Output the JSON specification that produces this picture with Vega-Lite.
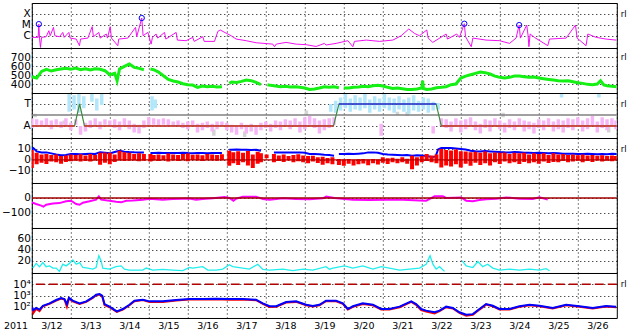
{
"$schema": "https://vega.github.io/schema/vega-lite/v6.json",
"background": "white",
"padding": {"left": 0.8, "top": 2, "right": 0, "bottom": 0},
"spacing": 0,
"bounds": "flush",
"config": {
  "view": {"stroke": "#000000", "strokeWidth": 1},
  "axis": {"domain": false, "ticks": false, "grid": true, "gridColor": "#000000", "gridDash": [1, 3], "gridOpacity": 1, "gridWidth": 1, "labelFont": "DejaVu Sans", "labelColor": "#000000", "labelFontSize": 10.5, "labelPadding": 1.5, "labelOverlap": false, "labelBound": false, "labelFlush": false},
  "axisX": {"labels": false, "tickCount": {"interval": "day", "step": 1}},
  "axisY": {"minExtent": 30, "maxExtent": 30},
  "text": {"font": "DejaVu Sans", "fontSize": 8.5, "color": "#000000", "align": "left", "baseline": "middle"}
},
"datasets": {
"xray": [
{"t":"2011-03-12T00:00Z","flux":7.4e-7},{"t":"2011-03-12T03:55Z","flux":7.4e-7},{"t":"2011-03-12T04:20Z","flux":1.2e-5},{"t":"2011-03-12T04:45Z","flux":6.4e-7},{"t":"2011-03-12T05:20Z","flux":9e-8},{"t":"2011-03-12T06:00Z","flux":7.4e-7},{"t":"2011-03-12T08:50Z","flux":8.5e-7},{"t":"2011-03-12T10:30Z","flux":3.0e-6},{"t":"2011-03-12T11:20Z","flux":1.05e-6},{"t":"2011-03-12T13:20Z","flux":6e-6},{"t":"2011-03-12T14:10Z","flux":1.05e-6},{"t":"2011-03-12T17:00Z","flux":8.5e-7},{"t":"2011-03-12T19:05Z","flux":2.1e-6},{"t":"2011-03-12T19:55Z","flux":7.4e-7},{"t":"2011-03-12T22:50Z","flux":2.1e-6},{"t":"2011-03-12T23:35Z","flux":6.4e-7},
{"t":"2011-03-13T03:20Z","flux":5.2e-7},{"t":"2011-03-13T05:20Z","flux":1.3e-7},{"t":"2011-03-13T06:00Z","flux":5.2e-7},{"t":"2011-03-13T10:30Z","flux":6.4e-7},{"t":"2011-03-13T13:10Z","flux":7e-6},{"t":"2011-03-13T13:55Z","flux":8.5e-7},{"t":"2011-03-13T17:15Z","flux":2.1e-6},{"t":"2011-03-13T18:05Z","flux":6.4e-7},{"t":"2011-03-13T21:50Z","flux":1.5e-6},{"t":"2011-03-13T22:35Z","flux":6.4e-7},
{"t":"2011-03-14T00:15Z","flux":7e-6},{"t":"2011-03-14T01:00Z","flux":6.4e-7},{"t":"2011-03-14T04:55Z","flux":1.3e-7},{"t":"2011-03-14T05:30Z","flux":5.2e-7},{"t":"2011-03-14T11:05Z","flux":6.4e-7},{"t":"2011-03-14T15:50Z","flux":6e-6},{"t":"2011-03-14T16:35Z","flux":8.5e-7},{"t":"2011-03-14T19:40Z","flux":4.3e-5},{"t":"2011-03-14T20:30Z","flux":1.05e-6},{"t":"2011-03-14T23:25Z","flux":2.1e-6},
{"t":"2011-03-15T00:10Z","flux":8.5e-7},{"t":"2011-03-15T01:25Z","flux":1.8e-7},{"t":"2011-03-15T02:15Z","flux":7.4e-7},{"t":"2011-03-15T04:30Z","flux":1.5e-6},{"t":"2011-03-15T05:30Z","flux":6.4e-7},{"t":"2011-03-15T09:40Z","flux":2.1e-6},{"t":"2011-03-15T10:30Z","flux":5.2e-7},{"t":"2011-03-15T16:50Z","flux":2.1e-6},{"t":"2011-03-15T17:35Z","flux":4.2e-7},{"t":"2011-03-15T23:00Z","flux":3.7e-7},
{"t":"2011-03-16T03:05Z","flux":7.4e-7},{"t":"2011-03-16T03:55Z","flux":3.2e-7},{"t":"2011-03-16T09:15Z","flux":8.5e-7},{"t":"2011-03-16T10:05Z","flux":3.2e-7},{"t":"2011-03-16T16:25Z","flux":3.2e-7},{"t":"2011-03-16T18:30Z","flux":2.6e-6},{"t":"2011-03-16T19:55Z","flux":3.5e-6},{"t":"2011-03-16T23:35Z","flux":1.8e-6},
{"t":"2011-03-17T02:40Z","flux":1.05e-6},{"t":"2011-03-17T05:45Z","flux":5.2e-7},{"t":"2011-03-17T11:55Z","flux":3.7e-7},{"t":"2011-03-17T18:05Z","flux":2.4e-7},
{"t":"2011-03-18T04:20Z","flux":1.8e-7},{"t":"2011-03-18T05:20Z","flux":1.05e-7},{"t":"2011-03-18T06:25Z","flux":1.8e-7},{"t":"2011-03-18T12:30Z","flux":2.6e-7},{"t":"2011-03-18T18:40Z","flux":1.8e-7},
{"t":"2011-03-19T00:50Z","flux":1.6e-7},{"t":"2011-03-19T07:00Z","flux":1.1e-7},{"t":"2011-03-19T12:05Z","flux":2.1e-7},{"t":"2011-03-19T13:05Z","flux":1.5e-7},{"t":"2011-03-19T19:15Z","flux":2.1e-7},
{"t":"2011-03-20T02:30Z","flux":3.7e-7},{"t":"2011-03-20T05:35Z","flux":1.05e-7},{"t":"2011-03-20T06:35Z","flux":3.2e-7},{"t":"2011-03-20T13:50Z","flux":4.2e-7},{"t":"2011-03-20T22:00Z","flux":3.2e-7},
{"t":"2011-03-21T06:10Z","flux":4.2e-7},{"t":"2011-03-21T11:20Z","flux":1.05e-6},{"t":"2011-03-21T16:00Z","flux":4.3e-6},{"t":"2011-03-21T19:30Z","flux":1.7e-6},{"t":"2011-03-21T22:35Z","flux":1.05e-6},
{"t":"2011-03-22T03:05Z","flux":3.5e-6},{"t":"2011-03-22T03:55Z","flux":6.4e-7},{"t":"2011-03-22T06:45Z","flux":2.6e-7},{"t":"2011-03-22T15:00Z","flux":1.5e-6},{"t":"2011-03-22T15:50Z","flux":5.2e-7},{"t":"2011-03-22T21:30Z","flux":1.5e-6},{"t":"2011-03-22T23:10Z","flux":7.4e-7},
{"t":"2011-03-23T02:10Z","flux":1.3e-5},{"t":"2011-03-23T02:55Z","flux":8.5e-7},{"t":"2011-03-23T06:25Z","flux":1.05e-7},{"t":"2011-03-23T07:25Z","flux":6.4e-7},{"t":"2011-03-23T15:35Z","flux":4.2e-7},{"t":"2011-03-23T23:50Z","flux":3.7e-7},
{"t":"2011-03-24T06:00Z","flux":2.1e-7},{"t":"2011-03-24T10:00Z","flux":6.4e-7},{"t":"2011-03-24T11:55Z","flux":9.8e-6},{"t":"2011-03-24T12:40Z","flux":6.4e-7},{"t":"2011-03-24T16:35Z","flux":9.8e-6},{"t":"2011-03-24T17:25Z","flux":1.05e-6},{"t":"2011-03-24T17:55Z","flux":1.05e-7},{"t":"2011-03-24T18:40Z","flux":1.5e-6},{"t":"2011-03-24T21:20Z","flux":7.4e-7},
{"t":"2011-03-25T05:30Z","flux":1.3e-7},{"t":"2011-03-25T06:35Z","flux":5.2e-7},{"t":"2011-03-25T16:50Z","flux":6.4e-7},{"t":"2011-03-25T22:35Z","flux":9.8e-6},{"t":"2011-03-25T23:35Z","flux":6.4e-7},
{"t":"2011-03-26T05:05Z","flux":1.3e-7},{"t":"2011-03-26T06:10Z","flux":1.5e-6},{"t":"2011-03-26T11:20Z","flux":7.4e-7},{"t":"2011-03-26T17:25Z","flux":5.2e-7},{"t":"2011-03-26T23:35Z","flux":4.2e-7}
],
"flares": [
{"t":"2011-03-12T04:20Z","flux":1.2e-5},{"t":"2011-03-14T19:40Z","flux":4.3e-5},{"t":"2011-03-23T02:10Z","flux":1.3e-5},{"t":"2011-03-24T11:55Z","flux":9.8e-6}
],
"wind": [
{"t":"2011-03-12T00:00Z","speed":481},{"t":"2011-03-12T03:00Z","speed":466},{"t":"2011-03-12T06:00Z","speed":540},{"t":"2011-03-12T09:00Z","speed":563},{"t":"2011-03-12T12:00Z","speed":544},{"t":"2011-03-12T15:00Z","speed":559},{"t":"2011-03-12T18:00Z","speed":566},{"t":"2011-03-12T21:00Z","speed":574},
{"t":"2011-03-13T00:00Z","speed":563},{"t":"2011-03-13T03:00Z","speed":577},{"t":"2011-03-13T06:00Z","speed":559},{"t":"2011-03-13T09:00Z","speed":570},{"t":"2011-03-13T12:00Z","speed":555},{"t":"2011-03-13T15:00Z","speed":570},{"t":"2011-03-13T18:00Z","speed":563},{"t":"2011-03-13T21:00Z","speed":548},
{"t":"2011-03-14T00:00Z","speed":503},{"t":"2011-03-14T03:00Z","speed":518},{"t":"2011-03-14T04:30Z","speed":436},{"t":"2011-03-14T06:00Z","speed":566},{"t":"2011-03-14T09:00Z","speed":596},{"t":"2011-03-14T12:00Z","speed":622},{"t":"2011-03-14T15:00Z","speed":585},{"t":"2011-03-14T18:00Z","speed":574},{"t":"2011-03-14T21:00Z","speed":559},{"t":"2011-03-14T22:30Z","speed":null},
{"t":"2011-03-15T01:00Z","speed":566},{"t":"2011-03-15T03:00Z","speed":559},{"t":"2011-03-15T06:00Z","speed":533},{"t":"2011-03-15T09:00Z","speed":492},{"t":"2011-03-15T12:00Z","speed":451},{"t":"2011-03-15T15:00Z","speed":433},{"t":"2011-03-15T18:00Z","speed":422},{"t":"2011-03-15T21:00Z","speed":403},
{"t":"2011-03-16T00:00Z","speed":392},{"t":"2011-03-16T03:00Z","speed":388},{"t":"2011-03-16T06:00Z","speed":363},{"t":"2011-03-16T09:00Z","speed":377},{"t":"2011-03-16T12:00Z","speed":370},{"t":"2011-03-16T15:00Z","speed":374},{"t":"2011-03-16T18:00Z","speed":366},{"t":"2011-03-16T21:00Z","speed":370},{"t":"2011-03-16T23:00Z","speed":null},
{"t":"2011-03-17T01:30Z","speed":407},{"t":"2011-03-17T03:00Z","speed":422},{"t":"2011-03-17T06:00Z","speed":418},{"t":"2011-03-17T09:00Z","speed":429},{"t":"2011-03-17T12:00Z","speed":444},{"t":"2011-03-17T15:00Z","speed":437},{"t":"2011-03-17T18:00Z","speed":418},{"t":"2011-03-17T21:00Z","speed":392},{"t":"2011-03-17T23:00Z","speed":null},
{"t":"2011-03-18T01:00Z","speed":392},{"t":"2011-03-18T03:00Z","speed":385},{"t":"2011-03-18T06:00Z","speed":377},{"t":"2011-03-18T09:00Z","speed":370},{"t":"2011-03-18T12:00Z","speed":374},{"t":"2011-03-18T15:00Z","speed":366},{"t":"2011-03-18T18:00Z","speed":370},{"t":"2011-03-18T21:00Z","speed":363},
{"t":"2011-03-19T00:00Z","speed":355},{"t":"2011-03-19T03:00Z","speed":340},{"t":"2011-03-19T06:00Z","speed":344},{"t":"2011-03-19T09:00Z","speed":355},{"t":"2011-03-19T12:00Z","speed":370},{"t":"2011-03-19T15:00Z","speed":363},{"t":"2011-03-19T18:00Z","speed":370},{"t":"2011-03-19T21:00Z","speed":359},{"t":"2011-03-19T22:30Z","speed":null},
{"t":"2011-03-20T00:00Z","speed":355},{"t":"2011-03-20T03:00Z","speed":355},{"t":"2011-03-20T06:00Z","speed":363},{"t":"2011-03-20T09:00Z","speed":366},{"t":"2011-03-20T12:00Z","speed":374},{"t":"2011-03-20T15:00Z","speed":370},{"t":"2011-03-20T18:00Z","speed":381},{"t":"2011-03-20T21:00Z","speed":385},
{"t":"2011-03-21T00:00Z","speed":377},{"t":"2011-03-21T03:00Z","speed":363},{"t":"2011-03-21T06:00Z","speed":351},{"t":"2011-03-21T09:00Z","speed":355},{"t":"2011-03-21T12:00Z","speed":348},{"t":"2011-03-21T15:00Z","speed":340},{"t":"2011-03-21T18:00Z","speed":340},{"t":"2011-03-21T21:00Z","speed":344},
{"t":"2011-03-22T00:00Z","speed":355},{"t":"2011-03-22T00:30Z","speed":437},{"t":"2011-03-22T01:00Z","speed":350},{"t":"2011-03-22T03:00Z","speed":340},{"t":"2011-03-22T06:00Z","speed":344},{"t":"2011-03-22T09:00Z","speed":359},{"t":"2011-03-22T12:00Z","speed":363},{"t":"2011-03-22T15:00Z","speed":370},{"t":"2011-03-22T18:00Z","speed":392},{"t":"2011-03-22T21:00Z","speed":400},
{"t":"2011-03-23T00:00Z","speed":466},{"t":"2011-03-23T03:00Z","speed":488},{"t":"2011-03-23T06:00Z","speed":503},{"t":"2011-03-23T09:00Z","speed":518},{"t":"2011-03-23T12:00Z","speed":533},{"t":"2011-03-23T15:00Z","speed":526},{"t":"2011-03-23T18:00Z","speed":511},{"t":"2011-03-23T21:00Z","speed":488},
{"t":"2011-03-24T00:00Z","speed":474},{"t":"2011-03-24T03:00Z","speed":466},{"t":"2011-03-24T06:00Z","speed":474},{"t":"2011-03-24T09:00Z","speed":488},{"t":"2011-03-24T12:00Z","speed":488},{"t":"2011-03-24T15:00Z","speed":481},{"t":"2011-03-24T18:00Z","speed":474},{"t":"2011-03-24T21:00Z","speed":477},
{"t":"2011-03-25T00:00Z","speed":466},{"t":"2011-03-25T03:00Z","speed":459},{"t":"2011-03-25T06:00Z","speed":451},{"t":"2011-03-25T09:00Z","speed":444},{"t":"2011-03-25T12:00Z","speed":437},{"t":"2011-03-25T15:00Z","speed":433},{"t":"2011-03-25T18:00Z","speed":437},{"t":"2011-03-25T21:00Z","speed":426},
{"t":"2011-03-26T00:00Z","speed":414},{"t":"2011-03-26T03:00Z","speed":407},{"t":"2011-03-26T06:00Z","speed":396},{"t":"2011-03-26T09:00Z","speed":392},{"t":"2011-03-26T12:00Z","speed":400},{"t":"2011-03-26T14:00Z","speed":437},{"t":"2011-03-26T16:00Z","speed":390},{"t":"2011-03-26T18:00Z","speed":381},{"t":"2011-03-26T21:00Z","speed":374},{"t":"2011-03-27T00:00Z","speed":370}
],
"sector": [
{"t":"2011-03-12T00:00Z","s":-1,"seg":1},{"t":"2011-03-13T02:20Z","s":-1,"seg":1},{"t":"2011-03-13T05:25Z","s":1,"seg":2},{"t":"2011-03-13T08:25Z","s":-1,"seg":3},{"t":"2011-03-19T17:40Z","s":-1,"seg":3},{"t":"2011-03-19T21:00Z","s":1,"seg":4},{"t":"2011-03-22T08:50Z","s":1,"seg":4},{"t":"2011-03-22T12:00Z","s":-1,"seg":5},{"t":"2011-03-27T00:00Z","s":-1,"seg":5}
],
"phi": [
{"t":"2011-03-12T02:00Z","lo":-0.2,"hi":0.1,"kind":"mixed"},{"t":"2011-03-12T20:00Z","lo":-0.9,"hi":-0.5,"kind":"mixed"},{"t":"2011-03-14T12:00Z","lo":-1.2,"hi":-0.9,"kind":"mixed"},{"t":"2011-03-16T16:00Z","lo":-1.9,"hi":-1.3,"kind":"mixed"},{"t":"2011-03-17T11:00Z","lo":-2.0,"hi":-1.5,"kind":"mixed"},{"t":"2011-03-19T01:00Z","lo":0.0,"hi":0.4,"kind":"mixed"},{"t":"2011-03-21T09:00Z","lo":0.0,"hi":0.3,"kind":"mixed"},{"t":"2011-03-21T15:00Z","lo":-0.1,"hi":0.3,"kind":"mixed"},{"t":"2011-03-24T02:00Z","lo":-0.2,"hi":0.2,"kind":"mixed"},{"t":"2011-03-26T19:00Z","lo":-1.6,"hi":-1.0,"kind":"mixed"},
{"t":"2011-03-12T00:00Z","lo":-1.2,"hi":-0.3,"kind":"away"},{"t":"2011-03-12T03:00Z","lo":-0.9,"hi":-0.4,"kind":"away"},{"t":"2011-03-12T06:00Z","lo":-1.1,"hi":-0.5,"kind":"away"},{"t":"2011-03-12T09:00Z","lo":-1.0,"hi":-0.3,"kind":"away"},{"t":"2011-03-12T12:00Z","lo":-1.3,"hi":-0.5,"kind":"away"},{"t":"2011-03-12T15:00Z","lo":-0.9,"hi":-0.4,"kind":"away"},{"t":"2011-03-12T18:00Z","lo":-1.2,"hi":-0.6,"kind":"away"},{"t":"2011-03-12T21:00Z","lo":-1.0,"hi":-0.3,"kind":"away"},
{"t":"2011-03-13T00:00Z","lo":-1.4,"hi":-0.7,"kind":"away"},{"t":"2011-03-13T03:00Z","lo":-0.9,"hi":-0.4,"kind":"away"},{"t":"2011-03-13T06:00Z","lo":-1.8,"hi":-1.0,"kind":"away"},{"t":"2011-03-13T09:00Z","lo":-1.5,"hi":-0.7,"kind":"away"},{"t":"2011-03-13T12:00Z","lo":-1.2,"hi":-0.5,"kind":"away"},{"t":"2011-03-13T15:00Z","lo":-1.0,"hi":-0.3,"kind":"away"},{"t":"2011-03-13T18:00Z","lo":-1.3,"hi":-0.6,"kind":"away"},{"t":"2011-03-13T21:00Z","lo":-0.9,"hi":-0.4,"kind":"away"},
{"t":"2011-03-14T00:00Z","lo":-1.1,"hi":-0.5,"kind":"away"},{"t":"2011-03-14T03:00Z","lo":-1.2,"hi":-0.4,"kind":"away"},{"t":"2011-03-14T06:00Z","lo":-1.4,"hi":-0.6,"kind":"away"},{"t":"2011-03-14T09:00Z","lo":-1.0,"hi":-0.3,"kind":"away"},{"t":"2011-03-14T12:00Z","lo":-1.3,"hi":-0.5,"kind":"away"},{"t":"2011-03-14T15:00Z","lo":-1.6,"hi":-0.8,"kind":"away"},{"t":"2011-03-14T18:00Z","lo":-1.7,"hi":-0.9,"kind":"away"},{"t":"2011-03-14T21:00Z","lo":-1.2,"hi":-0.5,"kind":"away"},
{"t":"2011-03-15T00:00Z","lo":-1.0,"hi":-0.2,"kind":"away"},{"t":"2011-03-15T03:00Z","lo":-0.9,"hi":-0.3,"kind":"away"},{"t":"2011-03-15T06:00Z","lo":-1.1,"hi":-0.4,"kind":"away"},{"t":"2011-03-15T09:00Z","lo":-0.9,"hi":-0.3,"kind":"away"},{"t":"2011-03-15T12:00Z","lo":-1.0,"hi":-0.4,"kind":"away"},{"t":"2011-03-15T15:00Z","lo":-1.1,"hi":-0.6,"kind":"away"},{"t":"2011-03-15T18:00Z","lo":-1.0,"hi":-0.5,"kind":"away"},{"t":"2011-03-15T21:00Z","lo":-1.2,"hi":-0.7,"kind":"away"},
{"t":"2011-03-16T00:00Z","lo":-1.3,"hi":-0.6,"kind":"away"},{"t":"2011-03-16T03:00Z","lo":-1.0,"hi":-0.5,"kind":"away"},{"t":"2011-03-16T06:00Z","lo":-1.6,"hi":-0.8,"kind":"away"},{"t":"2011-03-16T09:00Z","lo":-1.4,"hi":-0.7,"kind":"away"},{"t":"2011-03-16T12:00Z","lo":-1.2,"hi":-0.6,"kind":"away"},{"t":"2011-03-16T15:00Z","lo":-1.5,"hi":-0.8,"kind":"away"},{"t":"2011-03-16T18:00Z","lo":-1.3,"hi":-0.6,"kind":"away"},{"t":"2011-03-16T21:00Z","lo":-1.1,"hi":-0.6,"kind":"away"},
{"t":"2011-03-17T00:00Z","lo":-1.4,"hi":-0.7,"kind":"away"},{"t":"2011-03-17T03:00Z","lo":-1.6,"hi":-0.9,"kind":"away"},{"t":"2011-03-17T06:00Z","lo":-1.8,"hi":-1.0,"kind":"away"},{"t":"2011-03-17T09:00Z","lo":-1.3,"hi":-0.7,"kind":"away"},{"t":"2011-03-17T12:00Z","lo":-1.7,"hi":-0.9,"kind":"away"},{"t":"2011-03-17T15:00Z","lo":-1.5,"hi":-0.8,"kind":"away"},{"t":"2011-03-17T18:00Z","lo":-1.8,"hi":-1.0,"kind":"away"},{"t":"2011-03-17T21:00Z","lo":-1.4,"hi":-0.7,"kind":"away"},
{"t":"2011-03-18T00:00Z","lo":-1.2,"hi":-0.6,"kind":"away"},{"t":"2011-03-18T03:00Z","lo":-1.5,"hi":-0.8,"kind":"away"},{"t":"2011-03-18T06:00Z","lo":-1.2,"hi":-0.5,"kind":"away"},{"t":"2011-03-18T09:00Z","lo":-1.4,"hi":-0.6,"kind":"away"},{"t":"2011-03-18T12:00Z","lo":-1.0,"hi":-0.4,"kind":"away"},{"t":"2011-03-18T15:00Z","lo":-1.3,"hi":-0.5,"kind":"away"},{"t":"2011-03-18T18:00Z","lo":-1.1,"hi":-0.3,"kind":"away"},{"t":"2011-03-18T21:00Z","lo":-1.6,"hi":-0.6,"kind":"away"},
{"t":"2011-03-19T00:00Z","lo":-1.3,"hi":-0.2,"kind":"away"},{"t":"2011-03-19T03:00Z","lo":-0.9,"hi":-0.1,"kind":"away"},{"t":"2011-03-19T06:00Z","lo":-1.2,"hi":-0.3,"kind":"away"},{"t":"2011-03-19T09:00Z","lo":-1.7,"hi":-0.5,"kind":"away"},{"t":"2011-03-19T12:00Z","lo":-1.4,"hi":-0.4,"kind":"away"},{"t":"2011-03-19T15:00Z","lo":-1.2,"hi":-0.3,"kind":"away"},{"t":"2011-03-19T18:00Z","lo":-0.9,"hi":-0.2,"kind":"away"},
{"t":"2011-03-20T23:00Z","lo":-1.9,"hi":-0.8,"kind":"away"},{"t":"2011-03-22T07:00Z","lo":-1.7,"hi":-1.0,"kind":"away"},
{"t":"2011-03-22T12:00Z","lo":-1.0,"hi":-0.3,"kind":"away"},{"t":"2011-03-22T15:00Z","lo":-1.2,"hi":-0.4,"kind":"away"},{"t":"2011-03-22T18:00Z","lo":-1.5,"hi":-0.6,"kind":"away"},{"t":"2011-03-22T21:00Z","lo":-1.1,"hi":-0.3,"kind":"away"},
{"t":"2011-03-23T00:00Z","lo":-1.6,"hi":-0.5,"kind":"away"},{"t":"2011-03-23T03:00Z","lo":-1.3,"hi":-0.4,"kind":"away"},{"t":"2011-03-23T06:00Z","lo":-1.0,"hi":-0.2,"kind":"away"},{"t":"2011-03-23T09:00Z","lo":-1.4,"hi":-0.6,"kind":"away"},{"t":"2011-03-23T12:00Z","lo":-1.7,"hi":-0.8,"kind":"away"},{"t":"2011-03-23T15:00Z","lo":-1.2,"hi":-0.4,"kind":"away"},{"t":"2011-03-23T18:00Z","lo":-1.5,"hi":-0.5,"kind":"away"},{"t":"2011-03-23T21:00Z","lo":-1.0,"hi":-0.3,"kind":"away"},
{"t":"2011-03-24T00:00Z","lo":-1.3,"hi":-0.5,"kind":"away"},{"t":"2011-03-24T03:00Z","lo":-1.6,"hi":-0.7,"kind":"away"},{"t":"2011-03-24T06:00Z","lo":-1.2,"hi":-0.4,"kind":"away"},{"t":"2011-03-24T09:00Z","lo":-1.4,"hi":-0.6,"kind":"away"},{"t":"2011-03-24T12:00Z","lo":-1.1,"hi":-0.3,"kind":"away"},{"t":"2011-03-24T15:00Z","lo":-1.5,"hi":-0.5,"kind":"away"},{"t":"2011-03-24T18:00Z","lo":-1.3,"hi":-0.6,"kind":"away"},{"t":"2011-03-24T21:00Z","lo":-1.7,"hi":-0.7,"kind":"away"},
{"t":"2011-03-25T00:00Z","lo":-1.2,"hi":-0.4,"kind":"away"},{"t":"2011-03-25T03:00Z","lo":-1.4,"hi":-0.5,"kind":"away"},{"t":"2011-03-25T06:00Z","lo":-1.0,"hi":-0.3,"kind":"away"},{"t":"2011-03-25T09:00Z","lo":-1.5,"hi":-0.6,"kind":"away"},{"t":"2011-03-25T12:00Z","lo":-1.3,"hi":-0.4,"kind":"away"},{"t":"2011-03-25T15:00Z","lo":-1.6,"hi":-0.5,"kind":"away"},{"t":"2011-03-25T18:00Z","lo":-1.2,"hi":-0.3,"kind":"away"},{"t":"2011-03-25T21:00Z","lo":-1.4,"hi":-0.4,"kind":"away"},
{"t":"2011-03-26T00:00Z","lo":-1.1,"hi":-0.2,"kind":"away"},{"t":"2011-03-26T03:00Z","lo":-1.5,"hi":-0.5,"kind":"away"},{"t":"2011-03-26T06:00Z","lo":-1.3,"hi":-0.3,"kind":"away"},{"t":"2011-03-26T09:00Z","lo":-1.0,"hi":-0.1,"kind":"away"},{"t":"2011-03-26T12:00Z","lo":-1.6,"hi":-0.6,"kind":"away"},{"t":"2011-03-26T15:00Z","lo":-1.2,"hi":-0.2,"kind":"away"},{"t":"2011-03-26T18:00Z","lo":-1.4,"hi":-0.4,"kind":"away"},{"t":"2011-03-26T21:00Z","lo":-1.1,"hi":-0.3,"kind":"away"},{"t":"2011-03-26T23:30Z","lo":-1.3,"hi":-0.5,"kind":"away"},
{"t":"2011-03-12T23:00Z","lo":0.3,"hi":1.9,"kind":"toward"},{"t":"2011-03-13T02:00Z","lo":0.5,"hi":1.8,"kind":"toward"},{"t":"2011-03-13T05:00Z","lo":0.2,"hi":1.9,"kind":"toward"},{"t":"2011-03-13T08:00Z","lo":0.6,"hi":1.7,"kind":"toward"},{"t":"2011-03-13T13:00Z","lo":1.2,"hi":1.9,"kind":"toward"},{"t":"2011-03-13T16:00Z","lo":0.4,"hi":1.5,"kind":"toward"},{"t":"2011-03-13T19:00Z","lo":0.9,"hi":1.9,"kind":"toward"},{"t":"2011-03-15T02:00Z","lo":0.4,"hi":1.7,"kind":"toward"},{"t":"2011-03-15T04:00Z","lo":0.6,"hi":1.4,"kind":"toward"},
{"t":"2011-03-19T16:00Z","lo":0.3,"hi":1.0,"kind":"toward"},{"t":"2011-03-19T19:00Z","lo":0.2,"hi":1.3,"kind":"toward"},{"t":"2011-03-19T22:00Z","lo":0.4,"hi":1.6,"kind":"toward"},{"t":"2011-03-20T01:00Z","lo":0.6,"hi":1.9,"kind":"toward"},{"t":"2011-03-20T04:00Z","lo":0.3,"hi":1.5,"kind":"toward"},{"t":"2011-03-20T07:00Z","lo":0.5,"hi":1.8,"kind":"toward"},{"t":"2011-03-20T10:00Z","lo":0.4,"hi":1.6,"kind":"toward"},{"t":"2011-03-20T13:00Z","lo":0.6,"hi":1.9,"kind":"toward"},{"t":"2011-03-20T16:00Z","lo":0.2,"hi":1.4,"kind":"toward"},{"t":"2011-03-20T19:00Z","lo":0.5,"hi":1.7,"kind":"toward"},{"t":"2011-03-20T22:00Z","lo":0.3,"hi":1.5,"kind":"toward"},
{"t":"2011-03-21T01:00Z","lo":0.6,"hi":1.9,"kind":"toward"},{"t":"2011-03-21T04:00Z","lo":0.4,"hi":1.6,"kind":"toward"},{"t":"2011-03-21T07:00Z","lo":0.2,"hi":1.5,"kind":"toward"},{"t":"2011-03-21T10:00Z","lo":0.5,"hi":1.7,"kind":"toward"},{"t":"2011-03-21T13:00Z","lo":0.3,"hi":1.4,"kind":"toward"},{"t":"2011-03-21T16:00Z","lo":0.1,"hi":1.6,"kind":"toward"},{"t":"2011-03-21T19:00Z","lo":0.4,"hi":1.8,"kind":"toward"},{"t":"2011-03-21T22:00Z","lo":0.3,"hi":1.3,"kind":"toward"},
{"t":"2011-03-22T01:00Z","lo":0.5,"hi":1.6,"kind":"toward"},{"t":"2011-03-22T04:00Z","lo":0.2,"hi":1.5,"kind":"toward"},{"t":"2011-03-22T07:00Z","lo":0.4,"hi":1.2,"kind":"toward"},{"t":"2011-03-22T10:00Z","lo":0.5,"hi":1.1,"kind":"toward"},{"t":"2011-03-25T14:00Z","lo":1.6,"hi":1.9,"kind":"toward"},{"t":"2011-03-26T13:00Z","lo":1.6,"hi":1.9,"kind":"toward"}
],
"bt": [
{"t":"2011-03-12T00:00Z","bt":9.5},{"t":"2011-03-12T01:00Z","bt":10.8},{"t":"2011-03-12T03:00Z","bt":7.8},{"t":"2011-03-12T06:00Z","bt":6.9},{"t":"2011-03-12T09:00Z","bt":6.9},{"t":"2011-03-12T12:00Z","bt":6.0},{"t":"2011-03-12T15:00Z","bt":5.0},{"t":"2011-03-12T18:00Z","bt":4.2},{"t":"2011-03-12T21:00Z","bt":4.5},
{"t":"2011-03-13T00:00Z","bt":5.4},{"t":"2011-03-13T03:00Z","bt":5.4},{"t":"2011-03-13T06:00Z","bt":5.2},{"t":"2011-03-13T09:00Z","bt":5.4},{"t":"2011-03-13T12:00Z","bt":5.6},{"t":"2011-03-13T15:00Z","bt":5.4},{"t":"2011-03-13T18:00Z","bt":6.9},{"t":"2011-03-13T21:00Z","bt":6.5},
{"t":"2011-03-14T00:00Z","bt":6.0},{"t":"2011-03-14T03:00Z","bt":7.2},{"t":"2011-03-14T06:00Z","bt":8.4},{"t":"2011-03-14T09:00Z","bt":7.5},{"t":"2011-03-14T12:00Z","bt":7.2},{"t":"2011-03-14T15:00Z","bt":7.0},{"t":"2011-03-14T18:00Z","bt":6.9},{"t":"2011-03-14T21:00Z","bt":6.9},{"t":"2011-03-14T22:30Z","bt":null},
{"t":"2011-03-15T01:00Z","bt":6.3},{"t":"2011-03-15T03:00Z","bt":6.3},{"t":"2011-03-15T06:00Z","bt":6.5},{"t":"2011-03-15T09:00Z","bt":6.3},{"t":"2011-03-15T12:00Z","bt":6.4},{"t":"2011-03-15T15:00Z","bt":6.3},{"t":"2011-03-15T18:00Z","bt":6.3},{"t":"2011-03-15T21:00Z","bt":6.5},
{"t":"2011-03-16T00:00Z","bt":6.3},{"t":"2011-03-16T03:00Z","bt":6.2},{"t":"2011-03-16T06:00Z","bt":6.3},{"t":"2011-03-16T09:00Z","bt":6.3},{"t":"2011-03-16T12:00Z","bt":6.2},{"t":"2011-03-16T15:00Z","bt":6.3},{"t":"2011-03-16T18:00Z","bt":6.3},{"t":"2011-03-16T21:00Z","bt":6.3},{"t":"2011-03-16T23:00Z","bt":null},
{"t":"2011-03-17T01:30Z","bt":9.3},{"t":"2011-03-17T03:00Z","bt":9.4},{"t":"2011-03-17T06:00Z","bt":9.5},{"t":"2011-03-17T09:00Z","bt":9.3},{"t":"2011-03-17T12:00Z","bt":9.2},{"t":"2011-03-17T15:00Z","bt":9.0},{"t":"2011-03-17T18:00Z","bt":9.3},{"t":"2011-03-17T21:00Z","bt":8.4},{"t":"2011-03-17T23:00Z","bt":null},
{"t":"2011-03-18T05:00Z","bt":6.9},{"t":"2011-03-18T06:00Z","bt":6.9},{"t":"2011-03-18T09:00Z","bt":6.8},{"t":"2011-03-18T12:00Z","bt":6.9},{"t":"2011-03-18T15:00Z","bt":6.9},{"t":"2011-03-18T18:00Z","bt":6.8},{"t":"2011-03-18T21:00Z","bt":6.9},
{"t":"2011-03-19T00:00Z","bt":6.5},{"t":"2011-03-19T03:00Z","bt":5.4},{"t":"2011-03-19T06:00Z","bt":5.4},{"t":"2011-03-19T09:00Z","bt":5.2},{"t":"2011-03-19T12:00Z","bt":4.8},{"t":"2011-03-19T15:00Z","bt":4.5},{"t":"2011-03-19T18:00Z","bt":3.9},{"t":"2011-03-19T19:00Z","bt":null},{"t":"2011-03-19T21:00Z","bt":5.4},
{"t":"2011-03-20T00:00Z","bt":5.4},{"t":"2011-03-20T03:00Z","bt":5.6},{"t":"2011-03-20T06:00Z","bt":5.4},{"t":"2011-03-20T09:00Z","bt":5.7},{"t":"2011-03-20T12:00Z","bt":6.0},{"t":"2011-03-20T15:00Z","bt":6.9},{"t":"2011-03-20T18:00Z","bt":6.9},{"t":"2011-03-20T21:00Z","bt":6.5},
{"t":"2011-03-21T00:00Z","bt":5.4},{"t":"2011-03-21T03:00Z","bt":5.0},{"t":"2011-03-21T06:00Z","bt":4.8},{"t":"2011-03-21T09:00Z","bt":4.5},{"t":"2011-03-21T12:00Z","bt":4.2},{"t":"2011-03-21T15:00Z","bt":4.5},{"t":"2011-03-21T18:00Z","bt":3.9},{"t":"2011-03-21T21:00Z","bt":4.2},
{"t":"2011-03-22T00:00Z","bt":4.0},{"t":"2011-03-22T03:00Z","bt":3.5},{"t":"2011-03-22T06:00Z","bt":2.8},{"t":"2011-03-22T08:30Z","bt":3.0},{"t":"2011-03-22T10:00Z","bt":9.5},{"t":"2011-03-22T12:00Z","bt":10.8},{"t":"2011-03-22T15:00Z","bt":10.8},{"t":"2011-03-22T18:00Z","bt":10.8},{"t":"2011-03-22T21:00Z","bt":10.5},
{"t":"2011-03-23T00:00Z","bt":10.0},{"t":"2011-03-23T03:00Z","bt":9.5},{"t":"2011-03-23T06:00Z","bt":8.4},{"t":"2011-03-23T09:00Z","bt":8.0},{"t":"2011-03-23T12:00Z","bt":7.8},{"t":"2011-03-23T15:00Z","bt":8.1},{"t":"2011-03-23T18:00Z","bt":7.8},{"t":"2011-03-23T21:00Z","bt":7.5},
{"t":"2011-03-24T00:00Z","bt":7.2},{"t":"2011-03-24T03:00Z","bt":7.0},{"t":"2011-03-24T06:00Z","bt":6.9},{"t":"2011-03-24T09:00Z","bt":7.2},{"t":"2011-03-24T12:00Z","bt":7.0},{"t":"2011-03-24T15:00Z","bt":6.6},{"t":"2011-03-24T18:00Z","bt":6.6},{"t":"2011-03-24T21:00Z","bt":6.3},
{"t":"2011-03-25T00:00Z","bt":6.5},{"t":"2011-03-25T03:00Z","bt":6.3},{"t":"2011-03-25T06:00Z","bt":6.1},{"t":"2011-03-25T09:00Z","bt":6.3},{"t":"2011-03-25T12:00Z","bt":6.0},{"t":"2011-03-25T15:00Z","bt":5.7},{"t":"2011-03-25T18:00Z","bt":5.7},{"t":"2011-03-25T21:00Z","bt":5.6},
{"t":"2011-03-26T00:00Z","bt":5.5},{"t":"2011-03-26T03:00Z","bt":5.4},{"t":"2011-03-26T06:00Z","bt":5.6},{"t":"2011-03-26T09:00Z","bt":5.4},{"t":"2011-03-26T12:00Z","bt":5.1},{"t":"2011-03-26T15:00Z","bt":5.4},{"t":"2011-03-26T18:00Z","bt":5.2},{"t":"2011-03-26T21:00Z","bt":5.6},{"t":"2011-03-27T00:00Z","bt":5.4}
],
"bz": [
{"t":"2011-03-12T00:00Z","lo":-7.4,"hi":9.0},{"t":"2011-03-12T03:00Z","lo":-4.0,"hi":6.5},{"t":"2011-03-12T06:00Z","lo":-2.5,"hi":5.0},{"t":"2011-03-12T09:00Z","lo":-3.7,"hi":5.4},{"t":"2011-03-12T12:00Z","lo":-1.5,"hi":4.5},{"t":"2011-03-12T15:00Z","lo":-2.2,"hi":5.0},{"t":"2011-03-12T18:00Z","lo":-3.5,"hi":3.5},{"t":"2011-03-12T21:00Z","lo":-1.8,"hi":4.0},
{"t":"2011-03-13T00:00Z","lo":-1.2,"hi":5.0},{"t":"2011-03-13T03:00Z","lo":-0.8,"hi":4.5},{"t":"2011-03-13T06:00Z","lo":-1.5,"hi":5.2},{"t":"2011-03-13T09:00Z","lo":-1.0,"hi":4.0},{"t":"2011-03-13T12:00Z","lo":-1.3,"hi":5.4},{"t":"2011-03-13T15:00Z","lo":-0.5,"hi":4.5},{"t":"2011-03-13T18:00Z","lo":-4.3,"hi":6.5},{"t":"2011-03-13T21:00Z","lo":-2.5,"hi":6.9},
{"t":"2011-03-14T00:00Z","lo":-4.0,"hi":6.5},{"t":"2011-03-14T03:00Z","lo":-1.8,"hi":5.0},{"t":"2011-03-14T06:00Z","lo":-0.5,"hi":8.4},{"t":"2011-03-14T09:00Z","lo":-1.0,"hi":7.0},{"t":"2011-03-14T12:00Z","lo":-0.7,"hi":6.5},{"t":"2011-03-14T15:00Z","lo":-0.5,"hi":5.4},{"t":"2011-03-14T18:00Z","lo":-1.2,"hi":6.0},{"t":"2011-03-14T21:00Z","lo":-0.8,"hi":5.5},
{"t":"2011-03-15T01:00Z","lo":-1.3,"hi":5.5},{"t":"2011-03-15T03:00Z","lo":-0.6,"hi":4.5},{"t":"2011-03-15T06:00Z","lo":-1.0,"hi":5.0},{"t":"2011-03-15T09:00Z","lo":-0.2,"hi":4.2},{"t":"2011-03-15T12:00Z","lo":-1.3,"hi":5.8},{"t":"2011-03-15T15:00Z","lo":-0.5,"hi":5.0},{"t":"2011-03-15T18:00Z","lo":-1.0,"hi":4.6},{"t":"2011-03-15T21:00Z","lo":-0.3,"hi":5.5},
{"t":"2011-03-16T00:00Z","lo":-1.2,"hi":5.9},{"t":"2011-03-16T03:00Z","lo":-0.1,"hi":4.8},{"t":"2011-03-16T06:00Z","lo":-0.6,"hi":5.0},{"t":"2011-03-16T09:00Z","lo":-1.0,"hi":4.2},{"t":"2011-03-16T12:00Z","lo":-0.2,"hi":5.5},{"t":"2011-03-16T15:00Z","lo":-0.5,"hi":5.0},{"t":"2011-03-16T18:00Z","lo":-0.8,"hi":4.5},{"t":"2011-03-16T21:00Z","lo":-0.3,"hi":5.2},
{"t":"2011-03-17T01:30Z","lo":-5.3,"hi":8.4},{"t":"2011-03-17T04:00Z","lo":-3.0,"hi":7.0},{"t":"2011-03-17T07:00Z","lo":-4.5,"hi":8.0},{"t":"2011-03-17T10:00Z","lo":-2.0,"hi":6.5},{"t":"2011-03-17T13:00Z","lo":-5.0,"hi":8.2},{"t":"2011-03-17T16:00Z","lo":-7.4,"hi":5.0},{"t":"2011-03-17T19:00Z","lo":-3.5,"hi":7.5},{"t":"2011-03-17T21:00Z","lo":-2.0,"hi":6.0},
{"t":"2011-03-18T00:30Z","lo":1.5,"hi":4.9},{"t":"2011-03-18T05:00Z","lo":-2.2,"hi":5.4},{"t":"2011-03-18T08:00Z","lo":-1.0,"hi":4.0},{"t":"2011-03-18T11:00Z","lo":-1.8,"hi":5.0},{"t":"2011-03-18T14:00Z","lo":-0.5,"hi":3.5},{"t":"2011-03-18T17:00Z","lo":-2.0,"hi":4.5},{"t":"2011-03-18T20:00Z","lo":-1.2,"hi":5.2},{"t":"2011-03-18T23:00Z","lo":-2.2,"hi":4.0},
{"t":"2011-03-19T02:00Z","lo":-3.1,"hi":3.5},{"t":"2011-03-19T05:00Z","lo":-1.5,"hi":3.9},{"t":"2011-03-19T08:00Z","lo":-2.8,"hi":2.5},{"t":"2011-03-19T11:00Z","lo":-4.3,"hi":2.9},{"t":"2011-03-19T14:00Z","lo":-3.0,"hi":1.8},{"t":"2011-03-19T17:00Z","lo":-4.0,"hi":2.5},{"t":"2011-03-19T21:00Z","lo":-4.5,"hi":0.8},
{"t":"2011-03-20T00:00Z","lo":-5.3,"hi":0.5},{"t":"2011-03-20T03:00Z","lo":-3.5,"hi":0.8},{"t":"2011-03-20T06:00Z","lo":-5.0,"hi":0.2},{"t":"2011-03-20T09:00Z","lo":-4.0,"hi":0.6},{"t":"2011-03-20T12:00Z","lo":-3.2,"hi":0.8},{"t":"2011-03-20T15:00Z","lo":-4.8,"hi":0.4},{"t":"2011-03-20T18:00Z","lo":-3.0,"hi":0.8},{"t":"2011-03-20T21:00Z","lo":-4.2,"hi":0.3},
{"t":"2011-03-21T00:00Z","lo":-2.5,"hi":2.4},{"t":"2011-03-21T03:00Z","lo":-3.7,"hi":1.5},{"t":"2011-03-21T06:00Z","lo":-2.0,"hi":2.0},{"t":"2011-03-21T09:00Z","lo":-3.0,"hi":1.0},{"t":"2011-03-21T12:00Z","lo":-2.2,"hi":2.4},{"t":"2011-03-21T15:00Z","lo":-3.5,"hi":1.2},{"t":"2011-03-21T18:00Z","lo":-8.4,"hi":3.9},{"t":"2011-03-21T21:00Z","lo":-5.0,"hi":2.5},
{"t":"2011-03-22T00:00Z","lo":-2.2,"hi":3.5},{"t":"2011-03-22T03:00Z","lo":-1.0,"hi":5.4},{"t":"2011-03-22T06:00Z","lo":-2.2,"hi":4.0},{"t":"2011-03-22T09:00Z","lo":-3.0,"hi":5.0},{"t":"2011-03-22T12:00Z","lo":-6.8,"hi":9.9},{"t":"2011-03-22T15:00Z","lo":-5.0,"hi":9.0},{"t":"2011-03-22T18:00Z","lo":-6.0,"hi":8.5},{"t":"2011-03-22T21:00Z","lo":-4.0,"hi":9.5},
{"t":"2011-03-23T00:00Z","lo":-6.8,"hi":8.0},{"t":"2011-03-23T03:00Z","lo":-3.5,"hi":7.8},{"t":"2011-03-23T06:00Z","lo":-5.3,"hi":7.0},{"t":"2011-03-23T09:00Z","lo":-2.5,"hi":7.5},{"t":"2011-03-23T12:00Z","lo":-4.5,"hi":6.5},{"t":"2011-03-23T15:00Z","lo":-3.0,"hi":7.8},{"t":"2011-03-23T18:00Z","lo":-5.0,"hi":6.0},{"t":"2011-03-23T21:00Z","lo":-2.0,"hi":6.9},
{"t":"2011-03-24T00:00Z","lo":-3.7,"hi":6.5},{"t":"2011-03-24T03:00Z","lo":-1.5,"hi":6.9},{"t":"2011-03-24T06:00Z","lo":-3.0,"hi":5.5},{"t":"2011-03-24T09:00Z","lo":-2.0,"hi":6.5},{"t":"2011-03-24T12:00Z","lo":-3.7,"hi":6.0},{"t":"2011-03-24T15:00Z","lo":-1.8,"hi":6.6},{"t":"2011-03-24T18:00Z","lo":-3.0,"hi":5.0},{"t":"2011-03-24T21:00Z","lo":-2.2,"hi":6.0},
{"t":"2011-03-25T00:00Z","lo":-3.5,"hi":5.5},{"t":"2011-03-25T03:00Z","lo":-1.5,"hi":6.0},{"t":"2011-03-25T06:00Z","lo":-2.8,"hi":4.5},{"t":"2011-03-25T09:00Z","lo":-1.8,"hi":6.0},{"t":"2011-03-25T12:00Z","lo":-2.2,"hi":5.0},{"t":"2011-03-25T15:00Z","lo":-1.0,"hi":5.5},{"t":"2011-03-25T18:00Z","lo":-2.0,"hi":4.5},{"t":"2011-03-25T21:00Z","lo":-1.5,"hi":5.0},
{"t":"2011-03-26T00:00Z","lo":-0.8,"hi":4.2},{"t":"2011-03-26T03:00Z","lo":-2.2,"hi":5.0},{"t":"2011-03-26T06:00Z","lo":-1.0,"hi":4.0},{"t":"2011-03-26T09:00Z","lo":-1.8,"hi":4.5},{"t":"2011-03-26T12:00Z","lo":-0.5,"hi":3.8},{"t":"2011-03-26T15:00Z","lo":-1.5,"hi":4.2},{"t":"2011-03-26T18:00Z","lo":-0.8,"hi":3.5},{"t":"2011-03-26T21:00Z","lo":-1.2,"hi":4.0},{"t":"2011-03-26T23:30Z","lo":-0.5,"hi":3.5}
],
"dst": [
{"t":"2011-03-12T00:00Z","dst":-29},{"t":"2011-03-12T02:40Z","dst":-40},{"t":"2011-03-12T05:50Z","dst":-51},{"t":"2011-03-12T07:10Z","dst":-58},{"t":"2011-03-12T08:50Z","dst":-45},{"t":"2011-03-12T13:00Z","dst":-36},{"t":"2011-03-12T17:00Z","dst":-34},{"t":"2011-03-12T21:05Z","dst":-22},
{"t":"2011-03-13T00:10Z","dst":-18},{"t":"2011-03-13T03:20Z","dst":-40},{"t":"2011-03-13T05:25Z","dst":-45},{"t":"2011-03-13T07:25Z","dst":-31},{"t":"2011-03-13T11:30Z","dst":-22},{"t":"2011-03-13T15:35Z","dst":-11},{"t":"2011-03-13T17:15Z","dst":11},{"t":"2011-03-13T18:40Z","dst":-11},{"t":"2011-03-13T23:50Z","dst":-18},
{"t":"2011-03-14T03:55Z","dst":-25},{"t":"2011-03-14T07:00Z","dst":-29},{"t":"2011-03-14T10:05Z","dst":-18},{"t":"2011-03-14T14:10Z","dst":-16},{"t":"2011-03-14T20:20Z","dst":-11},
{"t":"2011-03-15T00:25Z","dst":-5},{"t":"2011-03-15T08:35Z","dst":-11},{"t":"2011-03-15T14:50Z","dst":-7},{"t":"2011-03-15T20:55Z","dst":-5},
{"t":"2011-03-16T01:00Z","dst":-3},{"t":"2011-03-16T05:05Z","dst":-11},{"t":"2011-03-16T09:10Z","dst":-7},{"t":"2011-03-16T15:25Z","dst":-1},{"t":"2011-03-16T22:35Z","dst":6},
{"t":"2011-03-17T01:35Z","dst":0},{"t":"2011-03-17T04:05Z","dst":-18},{"t":"2011-03-17T05:40Z","dst":-5},{"t":"2011-03-17T09:50Z","dst":9},{"t":"2011-03-17T18:00Z","dst":9},{"t":"2011-03-17T22:10Z","dst":-7},
{"t":"2011-03-18T02:20Z","dst":-11},{"t":"2011-03-18T06:25Z","dst":-7},{"t":"2011-03-18T10:30Z","dst":-2},{"t":"2011-03-18T18:40Z","dst":-7},
{"t":"2011-03-19T02:55Z","dst":-9},{"t":"2011-03-19T11:05Z","dst":-2},{"t":"2011-03-19T13:10Z","dst":9},{"t":"2011-03-19T18:20Z","dst":0},
{"t":"2011-03-20T00:25Z","dst":-7},{"t":"2011-03-20T05:35Z","dst":-11},{"t":"2011-03-20T15:50Z","dst":-14},
{"t":"2011-03-21T02:05Z","dst":-11},{"t":"2011-03-21T12:20Z","dst":-11},{"t":"2011-03-21T22:35Z","dst":-16},
{"t":"2011-03-22T02:40Z","dst":-18},{"t":"2011-03-22T04:40Z","dst":-7},{"t":"2011-03-22T07:50Z","dst":11},{"t":"2011-03-22T12:55Z","dst":11},{"t":"2011-03-22T15:00Z","dst":0},
{"t":"2011-03-23T00:10Z","dst":4},{"t":"2011-03-23T03:20Z","dst":-18},{"t":"2011-03-23T07:25Z","dst":-22},{"t":"2011-03-23T11:30Z","dst":-14},{"t":"2011-03-23T15:35Z","dst":-9},{"t":"2011-03-23T21:50Z","dst":-5},
{"t":"2011-03-24T03:55Z","dst":4},{"t":"2011-03-24T12:05Z","dst":-5},{"t":"2011-03-24T20:20Z","dst":-7},
{"t":"2011-03-25T00:25Z","dst":4},{"t":"2011-03-25T05:30Z","dst":-11}
],
"dens": [
{"t":"2011-03-12T00:35Z","n":7},{"t":"2011-03-12T02:40Z","n":15.5},{"t":"2011-03-12T04:45Z","n":9.5},{"t":"2011-03-12T06:50Z","n":17},{"t":"2011-03-12T08:50Z","n":9.5},{"t":"2011-03-12T10:55Z","n":11},{"t":"2011-03-12T13:00Z","n":7},{"t":"2011-03-12T15:00Z","n":7},{"t":"2011-03-12T17:00Z","n":1},{"t":"2011-03-12T19:05Z","n":14},{"t":"2011-03-12T21:05Z","n":11},{"t":"2011-03-12T23:10Z","n":15.5},
{"t":"2011-03-13T01:15Z","n":21.6},{"t":"2011-03-13T03:20Z","n":14},{"t":"2011-03-13T05:25Z","n":17},{"t":"2011-03-13T07:25Z","n":8},{"t":"2011-03-13T10:30Z","n":7},{"t":"2011-03-13T13:30Z","n":5},{"t":"2011-03-13T15:35Z","n":8},{"t":"2011-03-13T17:15Z","n":29.5},{"t":"2011-03-13T18:40Z","n":20},{"t":"2011-03-13T19:40Z","n":7},{"t":"2011-03-13T23:50Z","n":5},
{"t":"2011-03-14T03:55Z","n":9.5},{"t":"2011-03-14T07:00Z","n":11},{"t":"2011-03-14T09:00Z","n":5},{"t":"2011-03-14T12:05Z","n":3.4},{"t":"2011-03-14T20:20Z","n":3.4},{"t":"2011-03-14T22:25Z","n":7},
{"t":"2011-03-15T02:30Z","n":3.4},{"t":"2011-03-15T08:35Z","n":4.6},{"t":"2011-03-15T14:50Z","n":3.4},{"t":"2011-03-15T20:55Z","n":2.2},
{"t":"2011-03-16T01:00Z","n":8},{"t":"2011-03-16T03:05Z","n":7},{"t":"2011-03-16T09:10Z","n":9.5},{"t":"2011-03-16T12:20Z","n":3.4},{"t":"2011-03-16T17:25Z","n":3.4},{"t":"2011-03-16T21:30Z","n":5},
{"t":"2011-03-17T01:35Z","n":13},{"t":"2011-03-17T03:40Z","n":9.5},{"t":"2011-03-17T09:50Z","n":7},{"t":"2011-03-17T13:55Z","n":5},{"t":"2011-03-17T19:05Z","n":14},{"t":"2011-03-17T22:10Z","n":4.6},
{"t":"2011-03-18T02:20Z","n":3.4},{"t":"2011-03-18T10:30Z","n":5},{"t":"2011-03-18T16:35Z","n":2.2},{"t":"2011-03-18T22:50Z","n":5},
{"t":"2011-03-19T04:55Z","n":3.4},{"t":"2011-03-19T13:05Z","n":9.5},{"t":"2011-03-19T15:10Z","n":5},{"t":"2011-03-19T17:20Z","n":7},
{"t":"2011-03-20T00:25Z","n":11},{"t":"2011-03-20T05:35Z","n":7},{"t":"2011-03-20T11:40Z","n":11},{"t":"2011-03-20T17:55Z","n":5},{"t":"2011-03-20T23:00Z","n":9.5},
{"t":"2011-03-21T04:05Z","n":7},{"t":"2011-03-21T10:20Z","n":3.4},{"t":"2011-03-21T16:25Z","n":5},{"t":"2011-03-21T22:35Z","n":7},
{"t":"2011-03-22T02:40Z","n":14},{"t":"2011-03-22T05:05Z","n":29.5},{"t":"2011-03-22T06:50Z","n":14},{"t":"2011-03-22T08:50Z","n":5},{"t":"2011-03-22T10:55Z","n":9.5},{"t":"2011-03-22T14:00Z","n":1},{"t":"2011-03-22T16:00Z","n":null},
{"t":"2011-03-23T00:50Z","n":20},{"t":"2011-03-23T03:20Z","n":11},{"t":"2011-03-23T07:25Z","n":8},{"t":"2011-03-23T10:30Z","n":19},{"t":"2011-03-23T13:30Z","n":9.5},{"t":"2011-03-23T16:35Z","n":14},{"t":"2011-03-23T19:40Z","n":7},{"t":"2011-03-23T23:50Z","n":3.4},
{"t":"2011-03-24T06:00Z","n":5},{"t":"2011-03-24T12:05Z","n":3.4},{"t":"2011-03-24T18:20Z","n":5},
{"t":"2011-03-25T00:25Z","n":3.4},{"t":"2011-03-25T04:30Z","n":5.8},{"t":"2011-03-25T06:35Z","n":2.2}
],
"elec": [
{"t":"2011-03-12T00:00Z","e1":89,"e2":85},{"t":"2011-03-12T01:00Z","e1":50,"e2":28},{"t":"2011-03-12T02:40Z","e1":78,"e2":63},{"t":"2011-03-12T04:45Z","e1":56,"e2":40},{"t":"2011-03-12T06:50Z","e1":123,"e2":110},{"t":"2011-03-12T10:55Z","e1":200,"e2":180},{"t":"2011-03-12T15:00Z","e1":398,"e2":350},{"t":"2011-03-12T18:05Z","e1":603,"e2":540},{"t":"2011-03-12T20:05Z","e1":490,"e2":440},{"t":"2011-03-12T21:35Z","e1":174,"e2":100},{"t":"2011-03-12T22:50Z","e1":603,"e2":540},
{"t":"2011-03-13T01:10Z","e1":347,"e2":300},{"t":"2011-03-13T05:25Z","e1":200,"e2":180},{"t":"2011-03-13T09:30Z","e1":302,"e2":270},{"t":"2011-03-13T13:30Z","e1":676,"e2":600},{"t":"2011-03-13T15:35Z","e1":1175,"e2":1050},{"t":"2011-03-13T17:40Z","e1":1349,"e2":1200},{"t":"2011-03-13T19:20Z","e1":955,"e2":850},{"t":"2011-03-13T20:45Z","e1":174,"e2":141},{"t":"2011-03-13T23:50Z","e1":102,"e2":90},
{"t":"2011-03-14T04:20Z","e1":39,"e2":35},{"t":"2011-03-14T08:00Z","e1":63,"e2":56},{"t":"2011-03-14T12:05Z","e1":151,"e2":135},{"t":"2011-03-14T15:10Z","e1":347,"e2":310},{"t":"2011-03-14T20:20Z","e1":427,"e2":398},
{"t":"2011-03-15T00:25Z","e1":302,"e2":270},{"t":"2011-03-15T08:35Z","e1":302,"e2":270},{"t":"2011-03-15T16:50Z","e1":398,"e2":355},
{"t":"2011-03-16T01:00Z","e1":490,"e2":440},{"t":"2011-03-16T09:10Z","e1":490,"e2":440},{"t":"2011-03-16T17:25Z","e1":525,"e2":470},
{"t":"2011-03-17T01:35Z","e1":490,"e2":417},{"t":"2011-03-17T09:50Z","e1":490,"e2":440},{"t":"2011-03-17T18:00Z","e1":427,"e2":380},{"t":"2011-03-17T22:10Z","e1":200,"e2":180},
{"t":"2011-03-18T02:20Z","e1":110,"e2":95},{"t":"2011-03-18T06:25Z","e1":110,"e2":100},{"t":"2011-03-18T12:30Z","e1":263,"e2":235},{"t":"2011-03-18T18:40Z","e1":302,"e2":270},
{"t":"2011-03-19T00:50Z","e1":151,"e2":135},{"t":"2011-03-19T04:55Z","e1":115,"e2":103},{"t":"2011-03-19T09:00Z","e1":151,"e2":135},{"t":"2011-03-19T13:05Z","e1":347,"e2":310},{"t":"2011-03-19T19:15Z","e1":347,"e2":310},{"t":"2011-03-19T23:25Z","e1":200,"e2":180},
{"t":"2011-03-20T02:30Z","e1":63,"e2":56},{"t":"2011-03-20T05:35Z","e1":110,"e2":98},{"t":"2011-03-20T11:40Z","e1":200,"e2":178},{"t":"2011-03-20T17:55Z","e1":151,"e2":135},{"t":"2011-03-20T23:00Z","e1":63,"e2":56},
{"t":"2011-03-21T04:05Z","e1":63,"e2":56},{"t":"2011-03-21T10:20Z","e1":102,"e2":90},{"t":"2011-03-21T17:30Z","e1":302,"e2":270},{"t":"2011-03-21T20:30Z","e1":174,"e2":150},{"t":"2011-03-21T23:35Z","e1":63,"e2":50},
{"t":"2011-03-22T02:40Z","e1":45,"e2":38},{"t":"2011-03-22T07:50Z","e1":32,"e2":26},{"t":"2011-03-22T10:55Z","e1":45,"e2":40},{"t":"2011-03-22T15:00Z","e1":102,"e2":90},{"t":"2011-03-22T19:05Z","e1":78,"e2":70},{"t":"2011-03-22T23:10Z","e1":32,"e2":28},
{"t":"2011-03-23T03:20Z","e1":19.5,"e2":16},{"t":"2011-03-23T07:25Z","e1":22,"e2":19},{"t":"2011-03-23T11:30Z","e1":63,"e2":56},{"t":"2011-03-23T15:35Z","e1":174,"e2":155},{"t":"2011-03-23T19:40Z","e1":123,"e2":110},{"t":"2011-03-23T23:50Z","e1":63,"e2":56},
{"t":"2011-03-24T06:00Z","e1":63,"e2":56},{"t":"2011-03-24T12:05Z","e1":110,"e2":98},{"t":"2011-03-24T18:20Z","e1":151,"e2":135},
{"t":"2011-03-25T00:25Z","e1":123,"e2":110},{"t":"2011-03-25T08:35Z","e1":78,"e2":70},{"t":"2011-03-25T16:50Z","e1":151,"e2":135},
{"t":"2011-03-26T01:00Z","e1":110,"e2":98},{"t":"2011-03-26T09:10Z","e1":78,"e2":70},{"t":"2011-03-26T17:25Z","e1":115,"e2":103},{"t":"2011-03-26T23:35Z","e1":102,"e2":90}
]
},
"vconcat": [
{
 "width": 585, "height": 45,
 "resolve": {"axis": {"x": "independent", "y": "independent"}},
 "layer": [
  {"data": {"name": "xray"}, "mark": {"type": "line", "color": "#f010f0", "strokeWidth": 1, "clip": true},
   "encoding": {
    "x": {"field": "t", "type": "temporal", "title": null, "scale": {"type": "utc", "domain": [1299888000000, 1301184000000]}},
    "y": {"field": "flux", "type": "quantitative", "title": null, "scale": {"type": "log", "domain": [8e-8, 1e-3], "nice": false},
          "axis": {"values": [1e-6, 1e-5, 1e-4], "labelOverlap": false, "labelExpr": "datum.value > 5e-5 ? 'X\u00a0' : datum.value > 5e-6 ? 'M\u00a0' : 'C\u00a0'"}}
   }},
  {"data": {"name": "flares"}, "mark": {"type": "point", "shape": "circle", "filled": false, "color": "#0000ff", "size": 28, "strokeWidth": 1, "opacity": 1, "clip": true},
   "encoding": {
    "x": {"field": "t", "type": "temporal", "axis": null, "scale": {"type": "utc", "domain": [1299888000000, 1301184000000]}},
    "y": {"field": "flux", "type": "quantitative", "axis": null, "scale": {"type": "log", "domain": [8e-8, 1e-3], "nice": false}}
   }},
  {"data": {"values": [{"t": "2011-03-27T02:30Z", "level": 1e-4, "tag": "rl"}]}, "mark": {"type": "text"},
   "encoding": {
    "x": {"field": "t", "type": "temporal", "axis": null, "scale": {"type": "utc", "domain": [1299888000000, 1301184000000]}},
    "y": {"field": "level", "type": "quantitative", "axis": null, "scale": {"type": "log", "domain": [8e-8, 1e-3], "nice": false}},
    "text": {"field": "tag"}
   }}
 ]
},
{
 "width": 585, "height": 45,
 "resolve": {"axis": {"x": "independent", "y": "independent"}},
 "layer": [
  {"data": {"name": "wind"}, "mark": {"type": "line", "color": "#14f014", "strokeWidth": 3, "clip": true, "invalid": "break-paths-show-domains"},
   "encoding": {
    "x": {"field": "t", "type": "temporal", "title": null, "scale": {"type": "utc", "domain": [1299888000000, 1301184000000]}},
    "y": {"field": "speed", "type": "quantitative", "title": null, "scale": {"domain": [300, 800], "nice": false, "zero": false},
          "axis": {"values": [400, 500, 600, 700], "labelOverlap": false}}
   }},
  {"data": {"values": [{"t": "2011-03-27T02:30Z", "level": 700, "tag": "rl"}]}, "mark": {"type": "text"},
   "encoding": {
    "x": {"field": "t", "type": "temporal", "axis": null, "scale": {"type": "utc", "domain": [1299888000000, 1301184000000]}},
    "y": {"field": "level", "type": "quantitative", "axis": null, "scale": {"domain": [300, 800], "nice": false, "zero": false}},
    "text": {"field": "tag"}
   }}
 ]
},
{
 "width": 585, "height": 45,
 "resolve": {"scale": {"color": "independent"}, "axis": {"x": "independent", "y": "independent"}},
 "layer": [
  {"data": {"name": "phi"}, "mark": {"type": "rule", "strokeWidth": 3.5, "clip": true},
   "encoding": {
    "x": {"field": "t", "type": "temporal", "title": null, "scale": {"type": "utc", "domain": [1299888000000, 1301184000000]}},
    "y": {"field": "lo", "type": "quantitative", "title": null, "scale": {"domain": [-2.1, 2.0], "nice": false, "zero": false},
          "axis": {"values": [-1, 1], "labelOverlap": false, "labelExpr": "datum.value > 0 ? 'T\u00a0' : 'A\u00a0'"}},
    "y2": {"field": "hi"},
    "color": {"field": "kind", "type": "nominal", "legend": null, "scale": {"domain": ["mixed", "away", "toward"], "range": ["#d4d4d4", "#f6b6f6", "#b2e6fa"]}}
   }},
  {"data": {"values": [{"level": 0}]}, "mark": {"type": "rule", "color": "#808080", "strokeWidth": 1.5},
   "encoding": {"y": {"field": "level", "type": "quantitative", "axis": null, "scale": {"domain": [-2.1, 2.0], "nice": false, "zero": false}}}},
  {"data": {"name": "sector"}, "mark": {"type": "line", "color": "#3c8a3c", "strokeWidth": 1.2, "clip": true},
   "encoding": {
    "x": {"field": "t", "type": "temporal", "axis": null, "scale": {"type": "utc", "domain": [1299888000000, 1301184000000]}},
    "y": {"field": "s", "type": "quantitative", "axis": null, "scale": {"domain": [-2.1, 2.0], "nice": false, "zero": false}}
   }},
  {"data": {"name": "sector"}, "mark": {"type": "line", "strokeWidth": 1.5, "clip": true},
   "encoding": {
    "x": {"field": "t", "type": "temporal", "axis": null, "scale": {"type": "utc", "domain": [1299888000000, 1301184000000]}},
    "y": {"field": "s", "type": "quantitative", "axis": null, "scale": {"domain": [-2.1, 2.0], "nice": false, "zero": false}},
    "detail": {"field": "seg", "type": "nominal"},
    "color": {"field": "s", "type": "nominal", "legend": null, "scale": {"domain": [-1, 1], "range": ["#e03232", "#3232e0"]}}
   }},
  {"data": {"values": [{"t": "2011-03-27T02:30Z", "level": 1, "tag": "rl"}]}, "mark": {"type": "text"},
   "encoding": {
    "x": {"field": "t", "type": "temporal", "axis": null, "scale": {"type": "utc", "domain": [1299888000000, 1301184000000]}},
    "y": {"field": "level", "type": "quantitative", "axis": null, "scale": {"domain": [-2.1, 2.0], "nice": false, "zero": false}},
    "text": {"field": "tag"}
   }}
 ]
},
{
 "width": 585, "height": 45,
 "resolve": {"axis": {"x": "independent", "y": "independent"}},
 "layer": [
  {"data": {"name": "bt"}, "mark": {"type": "line", "color": "#0000ff", "strokeWidth": 2, "clip": true, "invalid": "break-paths-show-domains"},
   "encoding": {
    "x": {"field": "t", "type": "temporal", "title": null, "scale": {"type": "utc", "domain": [1299888000000, 1301184000000]}},
    "y": {"field": "bt", "type": "quantitative", "title": null, "scale": {"domain": [-21, 20], "nice": false, "zero": false},
          "axis": {"values": [-10, 0, 10], "labelOverlap": false}}
   }},
  {"data": {"name": "bz"}, "mark": {"type": "rule", "color": "#ff0000", "strokeWidth": 4, "clip": true},
   "encoding": {
    "x": {"field": "t", "type": "temporal", "axis": null, "scale": {"type": "utc", "domain": [1299888000000, 1301184000000]}},
    "y": {"field": "lo", "type": "quantitative", "axis": null, "scale": {"domain": [-21, 20], "nice": false, "zero": false}},
    "y2": {"field": "hi"}
   }},
  {"data": {"values": [{"level": 0}]}, "mark": {"type": "rule", "color": "#b40000", "strokeWidth": 1.2},
   "encoding": {"y": {"field": "level", "type": "quantitative", "axis": null, "scale": {"domain": [-21, 20], "nice": false, "zero": false}}}},
  {"data": {"values": [{"t": "2011-03-27T02:30Z", "level": 10, "tag": "rl"}]}, "mark": {"type": "text"},
   "encoding": {
    "x": {"field": "t", "type": "temporal", "axis": null, "scale": {"type": "utc", "domain": [1299888000000, 1301184000000]}},
    "y": {"field": "level", "type": "quantitative", "axis": null, "scale": {"domain": [-21, 20], "nice": false, "zero": false}},
    "text": {"field": "tag"}
   }}
 ]
},
{
 "width": 585, "height": 45,
 "resolve": {"axis": {"x": "independent", "y": "independent"}},
 "layer": [
  {"data": {"name": "dst"}, "mark": {"type": "line", "color": "#ff00ff", "strokeWidth": 2, "clip": true},
   "encoding": {
    "x": {"field": "t", "type": "temporal", "title": null, "scale": {"type": "utc", "domain": [1299888000000, 1301184000000]}},
    "y": {"field": "dst", "type": "quantitative", "title": null, "scale": {"domain": [-200, 100], "nice": false, "zero": false},
          "axis": {"values": [-100, 0], "labelOverlap": false}}
   }},
  {"data": {"values": [{"level": 0}]}, "mark": {"type": "rule", "color": "#a00000", "strokeWidth": 1.5},
   "encoding": {"y": {"field": "level", "type": "quantitative", "axis": null, "scale": {"domain": [-200, 100], "nice": false, "zero": false}}}}
 ]
},
{
 "width": 585, "height": 45,
 "layer": [
  {"data": {"name": "dens"}, "mark": {"type": "line", "color": "#22eeee", "strokeWidth": 1.3, "clip": true, "invalid": "break-paths-show-domains"},
   "encoding": {
    "x": {"field": "t", "type": "temporal", "title": null, "scale": {"type": "utc", "domain": [1299888000000, 1301184000000]}},
    "y": {"field": "n", "type": "quantitative", "title": null, "scale": {"domain": [-2, 80], "nice": false, "zero": false},
          "axis": {"values": [20, 40, 60], "labelOverlap": false}}
   }}
 ]
},
{
 "width": 585, "height": 45,
 "resolve": {"axis": {"x": "independent", "y": "independent"}},
 "layer": [
  {"data": {"name": "elec"}, "mark": {"type": "line", "color": "#ff0000", "strokeWidth": 2, "clip": true},
   "encoding": {
    "x": {"field": "t", "type": "temporal", "title": "2011", "scale": {"type": "utc", "domain": [1299888000000, 1301184000000]},
          "axis": {"labels": true, "values": [1299888000000, 1299974400000, 1300060800000, 1300147200000, 1300233600000, 1300320000000, 1300406400000, 1300492800000, 1300579200000, 1300665600000, 1300752000000, 1300838400000, 1300924800000, 1301011200000, 1301097600000],
                   "labelExpr": "utcFormat(datum.value, '%-m/%d')", "labelOffset": 19.5, "labelFlush": false, "labelOverlap": false, "labelFontSize": 9.5, "labelPadding": 3,
                   "titleX": -28.3, "titleY": 3, "titleAlign": "left", "titleBaseline": "top", "titleAngle": 0, "titleFont": "DejaVu Sans", "titleFontSize": 9.5, "titleFontWeight": "normal", "titleColor": "#000000"}},
    "y": {"field": "e2", "type": "quantitative", "title": null, "scale": {"type": "log", "domain": [10, 100000], "nice": false},
          "axis": {"values": [100, 1000, 10000], "labelOverlap": false, "labelExpr": "datum.value > 5000 ? '10⁴' : datum.value > 500 ? '10³' : '10²'"}}
   }},
  {"data": {"name": "elec"}, "mark": {"type": "line", "color": "#0000ff", "strokeWidth": 2, "clip": true},
   "encoding": {
    "x": {"field": "t", "type": "temporal", "axis": null, "scale": {"type": "utc", "domain": [1299888000000, 1301184000000]}},
    "y": {"field": "e1", "type": "quantitative", "axis": null, "scale": {"type": "log", "domain": [10, 100000], "nice": false}}
   }},
  {"data": {"values": [{"level": 10000}]}, "mark": {"type": "rule", "color": "#b00000", "strokeWidth": 1.5, "strokeDash": [9, 4]},
   "encoding": {"y": {"field": "level", "type": "quantitative", "axis": null, "scale": {"type": "log", "domain": [10, 100000], "nice": false}}}},
  {"data": {"values": [{"t": "2011-03-27T02:30Z", "level": 10000, "tag": "rl"}]}, "mark": {"type": "text"},
   "encoding": {
    "x": {"field": "t", "type": "temporal", "axis": null, "scale": {"type": "utc", "domain": [1299888000000, 1301184000000]}},
    "y": {"field": "level", "type": "quantitative", "axis": null, "scale": {"type": "log", "domain": [10, 100000], "nice": false}},
    "text": {"field": "tag"}
   }}
 ]
}
]
}
